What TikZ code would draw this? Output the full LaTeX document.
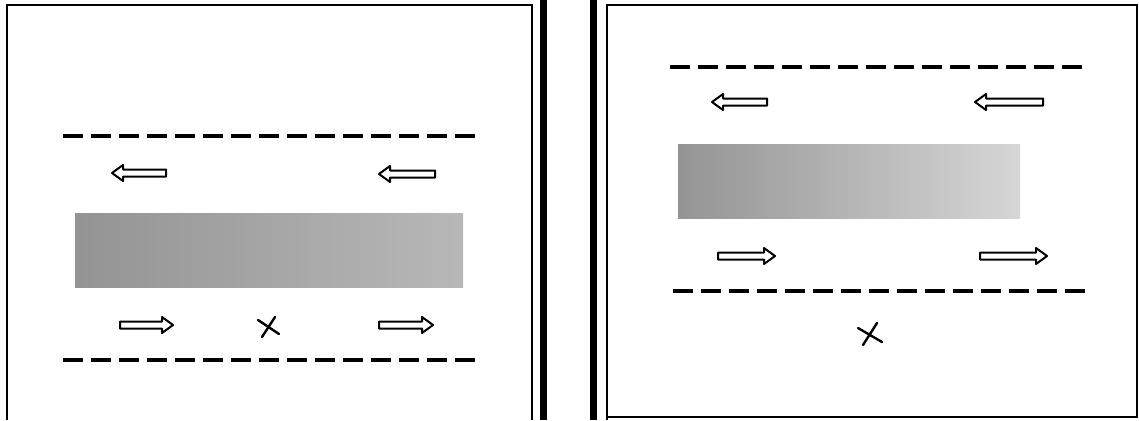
\documentclass[tikz,border=0pt]{standalone}
\usetikzlibrary{calc}
\tikzset{
  frameline/.style={line width=1.2pt, black},
  bar/.style={fill=black, draw=none},
  laneline/.style={line width=3.6pt, dash pattern=on 20pt off 8pt},
  laneline2/.style={line width=3.2pt, dash pattern=on 20pt off 8pt},
  blockarr/.style={line width=2pt, draw=black, fill=white, line join=round},
  band/.style={draw=none, left color=black!42, right color=black!28},
  band2/.style={draw=none, left color=black!42, right color=black!16},
  crossline/.style={line width=2.4pt, line cap=round},
  pics/rarrow/.style={code={
    \draw[blockarr] (0,-3.5) -- (#1-11,-3.5) -- (#1-11,-8) -- (#1,0) -- (#1-11,8) -- (#1-11,3.5) -- (0,3.5) -- cycle;
  }}
}
\begin{document}
\begin{tikzpicture}[x=1pt,y=-1pt]
\useasboundingbox (0,0) rectangle (1139,420);
% frames
\draw[frameline] (7,420) -- (7,5) -- (532,5) -- (532,420);
\draw[frameline] (607,420) -- (607,5) -- (1137,5) -- (1137,417) -- (607,417);
% thick bars
\fill[bar] (540,0) rectangle (547,420);
\fill[bar] (590,0) rectangle (597,420);
% left panel
\draw[laneline] (63,136) -- (477,136);
\draw[laneline2] (63,360) -- (477,360);
\shade[band] (75,213) rectangle (463,287);
\pic[xscale=-1] at (166,173) {rarrow=54};
\pic[xscale=-1] at (435,174) {rarrow=56};
\pic at (120,325) {rarrow=53};
\pic at (379,325) {rarrow=54};
\draw[crossline] (258,320) -- (279,334);
\draw[crossline] (275,317) -- (262,337);
% right panel
\draw[laneline] (670,67) -- (1085,67);
\draw[laneline2] (673,291) -- (1085,291);
\shade[band2] (678,144) rectangle (1020,218);
\pic[xscale=-1] at (767,102) {rarrow=55};
\pic[xscale=-1] at (1043,102) {rarrow=68};
\pic at (718,256) {rarrow=57};
\pic at (980,256) {rarrow=67};
\draw[crossline] (858,328) -- (882,342);
\draw[crossline] (877,323) -- (863,345);
\end{tikzpicture}
\end{document}
